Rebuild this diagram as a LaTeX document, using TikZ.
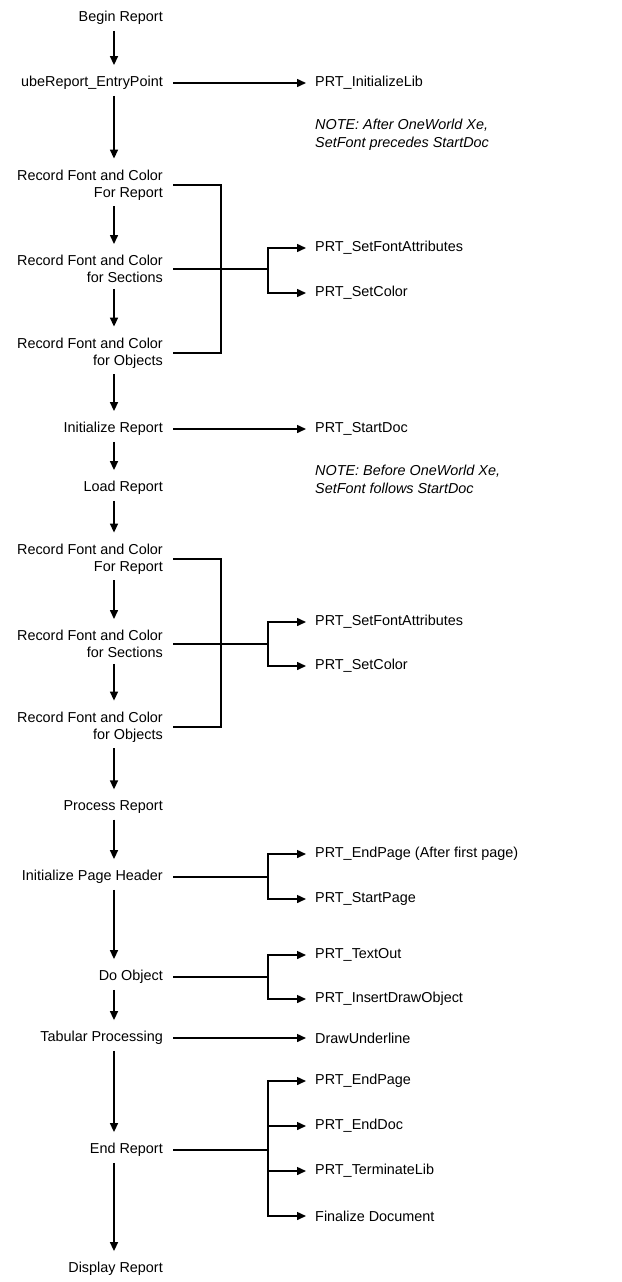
\documentclass[tikz,border=0pt]{standalone}
\usepackage{fontspec}
\setmainfont{Liberation Sans}
\usepackage{tikz}
\usetikzlibrary{arrows.meta}

\tikzset{
  stagetext/.style={anchor=east,inner xsep=0pt,inner ysep=3pt,align=right,font=\fontsize{14.4}{17}\selectfont},
  calltext/.style={anchor=west,inner xsep=0pt,inner ysep=3pt,font=\fontsize{14.4}{17}\selectfont},
  notetext/.style={anchor=west,inner sep=0pt,align=left,font=\fontsize{14.4}{18}\selectfont\itshape},
  wire/.style={line width=1.5pt},
  vflow/.style={->,line width=1.5pt,shorten <=3pt,shorten >=8pt},
  hflow/.style={->,line width=1.5pt,shorten <=10pt,shorten >=9pt},
  branch/.style={->,line width=1.5pt,shorten >=9pt}
}

\begin{document}
\begin{tikzpicture}[x=1pt,y=1pt,>={Triangle[length=9pt,width=8pt]}]
  \useasboundingbox (0,0) rectangle (621,-1282);
  \coordinate (spine) at (114,0);
  \coordinate (brk) at (221,0);
  \coordinate (fork) at (268,0);

  \node[stagetext] (begin) at (163,-18) {Begin Report};
  \node[stagetext] (entry) at (163,-83) {ubeReport\_EntryPoint};
  \node[stagetext] (rfA) at (163,-185) {Record Font and Color\\For Report};
  \node[stagetext] (rsA) at (163,-269) {Record Font and Color\\for Sections};
  \node[stagetext] (roA) at (163,-353) {Record Font and Color\\for Objects};
  \node[stagetext] (init) at (163,-429) {Initialize Report};
  \node[stagetext] (load) at (163,-488) {Load Report};
  \node[stagetext] (rfB) at (163,-559) {Record Font and Color\\For Report};
  \node[stagetext] (rsB) at (163,-644) {Record Font and Color\\for Sections};
  \node[stagetext] (roB) at (163,-727) {Record Font and Color\\for Objects};
  \node[stagetext] (proc) at (163,-807) {Process Report};
  \node[stagetext] (pghead) at (163,-877) {Initialize Page Header};
  \node[stagetext] (doobj) at (163,-977) {Do Object};
  \node[stagetext] (tabular) at (163,-1038) {Tabular Processing};
  \node[stagetext] (endrep) at (163,-1150) {End Report};
  \node[stagetext] (display) at (163,-1269) {Display Report};

  \node[calltext] (initlib) at (315,-83) {PRT\_InitializeLib};
  \node[notetext] (noteA) at (315,-135) {NOTE: After OneWorld Xe,\\SetFont precedes StartDoc};
  \node[calltext] (fontA) at (315,-248) {PRT\_SetFontAttributes};
  \node[calltext] (colorA) at (315,-293) {PRT\_SetColor};
  \node[calltext] (startdoc) at (315,-429) {PRT\_StartDoc};
  \node[notetext] (noteB) at (315,-479) {NOTE: Before OneWorld Xe,\\SetFont follows StartDoc};
  \node[calltext] (fontB) at (315,-622) {PRT\_SetFontAttributes};
  \node[calltext] (colorB) at (315,-666) {PRT\_SetColor};
  \node[calltext] (endpgA) at (315,-854) {PRT\_EndPage (After first page)};
  \node[calltext] (startpg) at (315,-899) {PRT\_StartPage};
  \node[calltext] (textout) at (315,-955) {PRT\_TextOut};
  \node[calltext] (insdraw) at (315,-999) {PRT\_InsertDrawObject};
  \node[calltext] (underline) at (315,-1038) {DrawUnderline};
  \node[calltext] (endpgB) at (315,-1081) {PRT\_EndPage};
  \node[calltext] (enddoc) at (315,-1126) {PRT\_EndDoc};
  \node[calltext] (termlib) at (315,-1171) {PRT\_TerminateLib};
  \node[calltext] (finaldoc) at (315,-1216) {Finalize Document};

  \draw[vflow] (begin.south -| spine) -- (entry.north -| spine);
  \draw[vflow] (entry.south -| spine) -- (rfA.north -| spine);
  \draw[vflow] (rfA.south -| spine) -- (rsA.north -| spine);
  \draw[vflow] (rsA.south -| spine) -- (roA.north -| spine);
  \draw[vflow] (roA.south -| spine) -- (init.north -| spine);
  \draw[vflow] (init.south -| spine) -- (load.north -| spine);
  \draw[vflow] (load.south -| spine) -- (rfB.north -| spine);
  \draw[vflow] (rfB.south -| spine) -- (rsB.north -| spine);
  \draw[vflow] (rsB.south -| spine) -- (roB.north -| spine);
  \draw[vflow] (roB.south -| spine) -- (proc.north -| spine);
  \draw[vflow] (proc.south -| spine) -- (pghead.north -| spine);
  \draw[vflow] (pghead.south -| spine) -- (doobj.north -| spine);
  \draw[vflow] (doobj.south -| spine) -- (tabular.north -| spine);
  \draw[vflow] (tabular.south -| spine) -- (endrep.north -| spine);
  \draw[vflow] (endrep.south -| spine) -- (display.north -| spine);

  \draw[hflow] (entry.east) -- (initlib.west);
  \draw[hflow] (init.east) -- (startdoc.west);
  \draw[hflow] (tabular.east) -- (underline.west);

  \draw[wire] ([xshift=10pt]rfA.east) -- (rfA.east -| brk) -- (roA.east -| brk) -- ([xshift=10pt]roA.east);
  \draw[wire] ([xshift=10pt]rsA.east) -- (rsA.east -| fork);
  \draw[branch] (rsA.east -| fork) |- (fontA.west);
  \draw[branch] (rsA.east -| fork) |- (colorA.west);

  \draw[wire] ([xshift=10pt]rfB.east) -- (rfB.east -| brk) -- (roB.east -| brk) -- ([xshift=10pt]roB.east);
  \draw[wire] ([xshift=10pt]rsB.east) -- (rsB.east -| fork);
  \draw[branch] (rsB.east -| fork) |- (fontB.west);
  \draw[branch] (rsB.east -| fork) |- (colorB.west);

  \draw[wire] ([xshift=10pt]pghead.east) -- (pghead.east -| fork);
  \draw[branch] (pghead.east -| fork) |- (endpgA.west);
  \draw[branch] (pghead.east -| fork) |- (startpg.west);

  \draw[wire] ([xshift=10pt]doobj.east) -- (doobj.east -| fork);
  \draw[branch] (doobj.east -| fork) |- (textout.west);
  \draw[branch] (doobj.east -| fork) |- (insdraw.west);

  \draw[wire] ([xshift=10pt]endrep.east) -- (endrep.east -| fork);
  \draw[branch] (endrep.east -| fork) |- (endpgB.west);
  \draw[branch] (endrep.east -| fork) |- (enddoc.west);
  \draw[branch] (endrep.east -| fork) |- (termlib.west);
  \draw[branch] (endrep.east -| fork) |- (finaldoc.west);
\end{tikzpicture}
\end{document}
